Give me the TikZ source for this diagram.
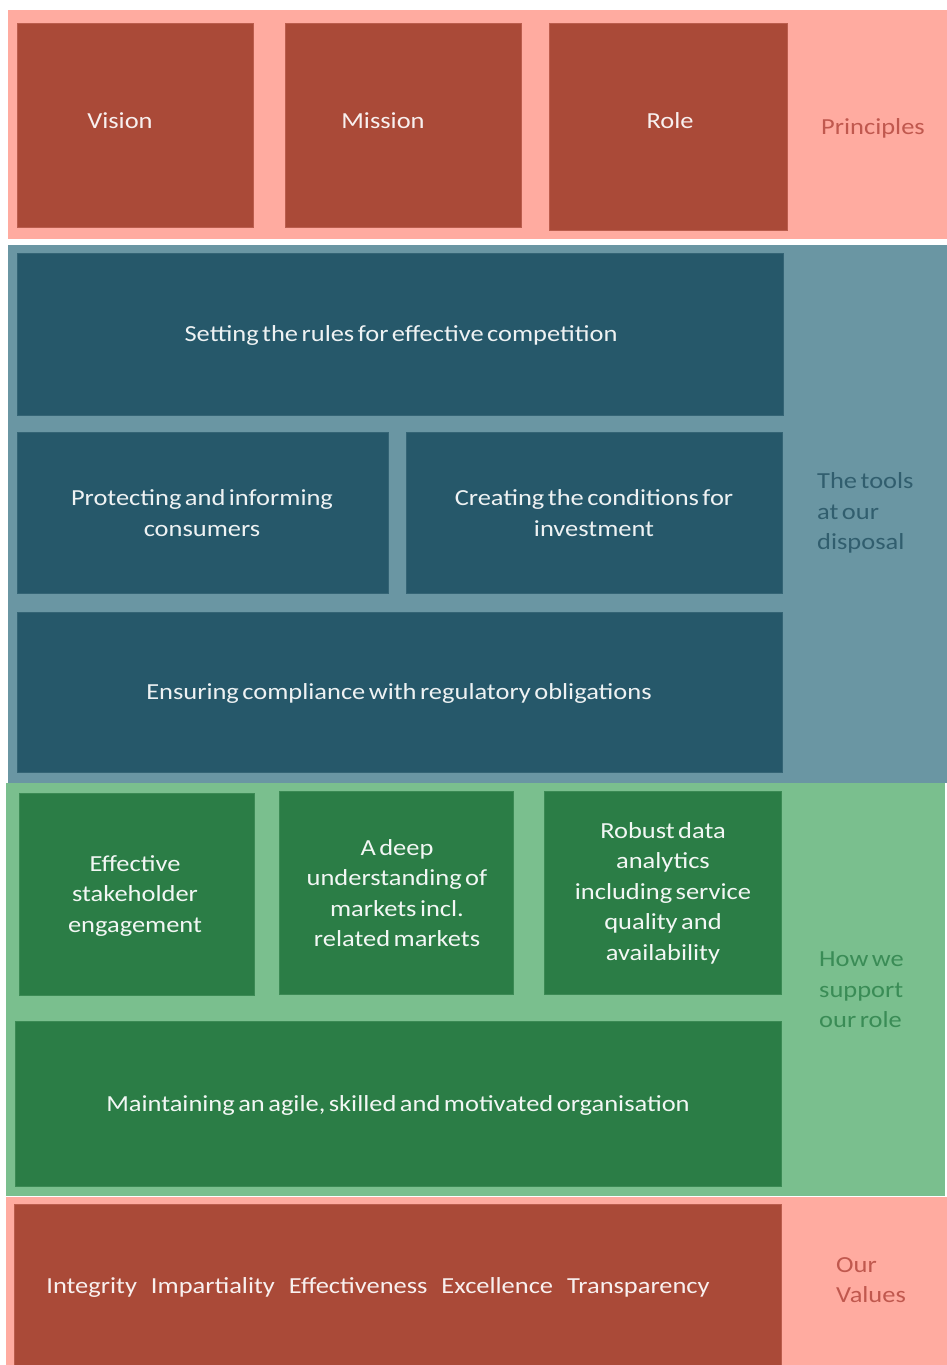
\documentclass[tikz,border=0pt]{standalone}
\usepackage{fontspec}
\setmainfont[FakeStretch=1.15]{Carlito}
\usetikzlibrary{positioning}
\definecolor{bandpink}{RGB}{255,171,160}
\definecolor{boxred}{RGB}{170,74,56}
\definecolor{bandteal}{RGB}{106,150,163}
\definecolor{boxteal}{RGB}{38,88,106}
\definecolor{bandgreen}{RGB}{122,191,142}
\definecolor{boxgreen}{RGB}{43,125,70}
\definecolor{sidered}{RGB}{192,88,78}
\definecolor{sideteal}{RGB}{49,94,110}
\definecolor{sidegreen}{RGB}{58,140,86}
\newcommand{\valgap}{\hspace{14pt}}
\newcommand{\tightwords}{\spaceskip=3.5pt plus 1pt minus 0.5pt\relax}
\tikzset{
    band/.style={
           rectangle,
           draw=none,
           inner sep=0pt,
           anchor=north west,
           },
    tile/.style={
           rectangle,
           inner sep=0pt,
           line width=0.6pt,
           anchor=north west,
           },
    redtile/.style={tile, fill=boxred, draw=boxred!80!bandpink},
    tealtile/.style={tile, fill=boxteal, draw=boxteal!80!bandteal},
    greentile/.style={tile, fill=boxgreen, draw=boxgreen!80!bandgreen},
    tiletext/.style={
           align=center,
           inner sep=0pt,
           font=\fontsize{23}{30.5}\selectfont\tightwords,
           },
    sidetext/.style={
           align=left,
           inner sep=0pt,
           font=\fontsize{23}{30.5}\selectfont\tightwords,
           },
}

\begin{document}
\begin{tikzpicture}[x=1pt,y=-1pt]

 \useasboundingbox (0,0) rectangle (947,1365);

 % Principles band
 \node[band, fill=bandpink, minimum width=939pt, minimum height=229pt] (principles) at (8,10) {};
 \node[redtile, minimum width=236pt, minimum height=204pt] (vision)  at (17,23) {};
 \node[redtile, minimum width=236pt, minimum height=204pt] (mission) at (285,23) {};
 \node[redtile, minimum width=238pt, minimum height=207pt] (role)    at (549,23) {};
 \node[tiletext, text=boxred!8!white] (vision-txt)  at (120,121) {Vision};
 \node[tiletext, text=boxred!8!white] (mission-txt) at (383,121) {Mission};
 \node[tiletext, text=boxred!8!white] (role-txt)    at (670,121) {Role};
 \node[sidetext, text=sidered] (principles-txt) at (873,128) {Principles};

 % Tools band
 \node[band, fill=bandteal, minimum width=939pt, minimum height=538pt] (tools) at (8,245) {};
 \node[tealtile, minimum width=766pt, minimum height=162pt] (rules)      at (17,253) {};
 \node[tealtile, minimum width=371pt, minimum height=161pt] (protect)    at (17,432) {};
 \node[tealtile, minimum width=376pt, minimum height=161pt] (invest)     at (406,432) {};
 \node[tealtile, minimum width=765pt, minimum height=160pt] (compliance) at (17,612) {};
 \node[tiletext, text=white!92!boxteal] (rules-txt)      at (401,335) {Setting the rules for effective competition};
 \node[tiletext, text=white!92!boxteal] (protect-txt)    at (202,513) {Protecting and informing\\consumers};
 \node[tiletext, text=white!92!boxteal] (invest-txt)     at (594,513) {Creating the conditions for\\investment};
 \node[tiletext, text=white!92!boxteal] (compliance-txt) at (399,693) {Ensuring compliance with regulatory obligations};
 \node[sidetext, text=sideteal, anchor=west] (tools-txt) at (817,513) {The tools\\at our\\disposal};

 % Support band
 \node[band, fill=bandgreen, minimum width=939pt, minimum height=413pt] (support) at (6,783) {};
 \node[greentile, minimum width=235pt, minimum height=202pt] (engage)    at (19,793) {};
 \node[greentile, minimum width=234pt, minimum height=203pt] (markets)   at (279,791) {};
 \node[greentile, minimum width=237pt, minimum height=203pt] (analytics) at (544,791) {};
 \node[greentile, minimum width=766pt, minimum height=165pt] (organise)  at (15,1021) {};
 \node[tiletext, text=white!94!boxgreen] (engage-txt)    at (135,896) {Effective\\stakeholder\\engagement};
 \node[tiletext, text=white!94!boxgreen] (markets-txt)   at (397,893) {A deep\\understanding of\\markets incl.\\related markets};
 \node[tiletext, text=white!94!boxgreen] (analytics-txt) at (663,893) {Robust data\\analytics\\including service\\quality and\\availability};
 \node[tiletext, text=white!94!boxgreen] (organise-txt)  at (398,1105) {Maintaining an agile, skilled and motivated organisation};
 \node[sidetext, text=sidegreen, anchor=west] (support-txt) at (819,990) {How we\\support\\our role};

 % Values band
 \node[band, fill=bandpink, minimum width=941pt, minimum height=168pt] (values) at (6,1197) {};
 \node[redtile, minimum width=767pt, minimum height=165pt] (valuelist) at (14,1204) {};
 \node[tiletext, text=boxred!8!white] (valuelist-txt) at (378,1287) {Integrity\valgap Impartiality\valgap Effectiveness\valgap Excellence\valgap Transparency};
 \node[sidetext, text=sidered, anchor=west] (values-txt) at (836,1280) {Our\\Values};

\end{tikzpicture}
\end{document}
